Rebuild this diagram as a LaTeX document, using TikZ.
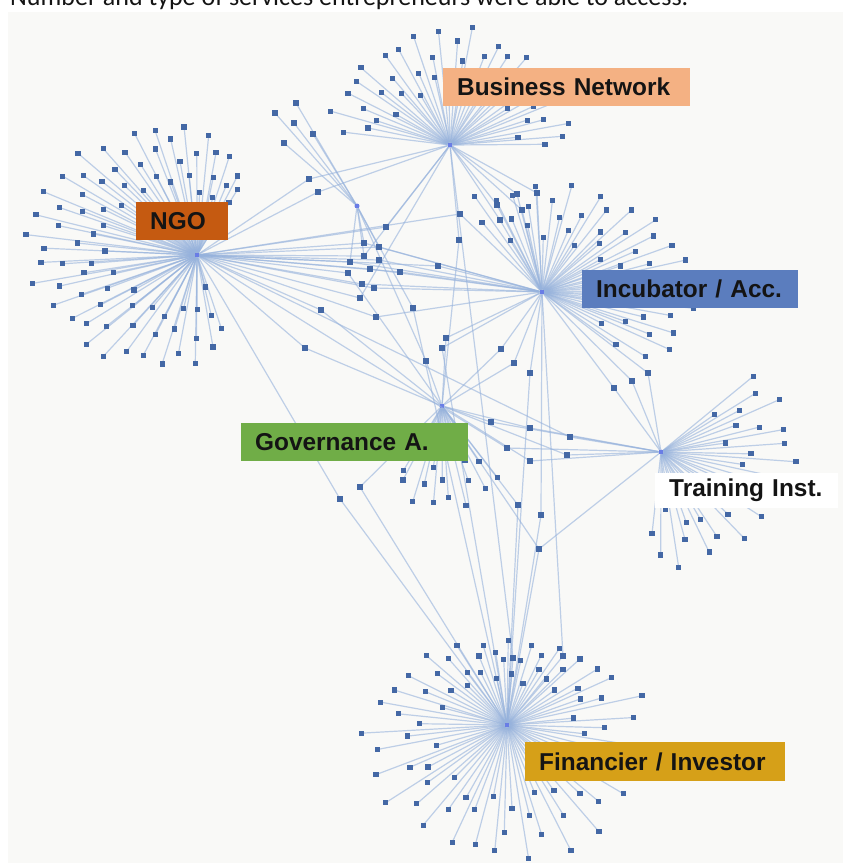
\documentclass[tikz,border=0pt]{standalone}
\usepackage{fontspec}
\setmainfont{Liberation Sans}
\newfontfamily\captionfont{Carlito}
\definecolor{paper}{RGB}{249,249,247}
\definecolor{linkblue}{RGB}{150,178,220}
\definecolor{leafblue}{RGB}{68,104,165}
\definecolor{bnorange}{RGB}{244,177,131}
\definecolor{ngorust}{RGB}{197,90,17}
\definecolor{incblue}{RGB}{91,125,190}
\definecolor{govgreen}{RGB}{112,173,71}
\definecolor{fingold}{RGB}{214,160,24}
\definecolor{ink}{RGB}{20,20,20}
\def\ring{{1,0.72,0.9,0.52,1,0.8,0.62}}
\tikzset{
  leaf/.style={rectangle, fill=leafblue, minimum size=5.2pt, inner sep=0pt},
  hubdot/.style={circle, fill=linkblue!70!blue, minimum size=5pt, inner sep=0pt},
  link/.style={draw=linkblue, line width=1.2pt, opacity=0.6},
  tag/.style={rectangle, anchor=west, align=left, inner xsep=14pt, inner ysep=0pt,
    minimum height=38pt, text=ink, font=\fontsize{24.4}{28}\selectfont\bfseries}
}
\begin{document}
\begin{tikzpicture}[x=1pt, y=-1pt]
\useasboundingbox (0,0) rectangle (843,863);
\clip (0,0) rectangle (843,863);
\node[anchor=base west, inner sep=0pt, text=ink, font=\captionfont\fontsize{26}{30}\selectfont] (title) at (10,5)
  {Number and type of services entrepreneurs were able to access.};
\fill[paper] (8,12) rectangle (843,863);

\node[hubdot] (bn) at (450,145) {};
\node[hubdot] (ngo) at (197,255) {};
\node[hubdot] (inc) at (542,292) {};
\node[hubdot] (gov) at (442,406) {};
\node[hubdot] (trn) at (661,452) {};
\node[hubdot] (fin) at (507,725) {};
\node[hubdot] (oth) at (357,206) {};

\pgfmathsetseed{11}
\foreach \h/\cx/\cy/\n/\start/\s/\rx/\ry/\kx/\ky in {
    ngo/183/245/80/45/3.1/152/122/.6/0,
    bn/452/145/44/-4/4/125/113/0/0,
    inc/542/292/47/-48/3.6/148/105/0/0,
    trn/661/452/32/-100/4.5/130/112/0/0,
    gov/442/406/16/232/4.8/95/100/0/0,
    fin/507/725/80/-6/4.5/142/132/0/.35} {
  \foreach \i in {1,...,\n} {
    \pgfmathsetmacro\ang{\start+\i*\s+1.2*rand}
    \pgfmathsetmacro\f{\ring[int(mod(\i,7))]*(0.94+0.12*rnd)*(1-\kx*max(0,cos(\ang))-\ky*max(0,sin(\ang)))}
    \coordinate (\h-\i) at ({\cx+\rx*\f*cos(\ang)},{\cy-\ry*\f*sin(\ang)});
    \draw[link] (\h) -- (\h-\i);
  }
}

\foreach \x/\y/\hs [count=\k] in {
    296/103/{oth}, 275/113/{oth}, 294/123/{oth}, 313/134/{oth}, 284/143/{oth},
    309/179/{ngo,bn}, 318/192/{ngo,bn}, 386/227/{ngo,bn},
    460/214/{ngo,inc}, 459/240/{bn,gov}, 438/266/{ngo,inc},
    497/205/{bn,inc}, 517/194/{bn,inc}, 537/193/{bn,inc}, 522/210/{bn,inc}, 500/220/{bn,inc},
    364/243/{ngo,inc,oth}, 379/247/{ngo,inc,oth}, 364/256/{ngo,bn,oth}, 379/260/{ngo,inc},
    350/262/{ngo,inc,oth}, 370/269/{ngo,inc}, 348/273/{ngo,gov}, 400/272/{ngo,inc},
    362/284/{ngo,inc}, 374/288/{ngo,inc}, 360/298/{ngo,bn}, 321/310/{ngo,gov},
    376/317/{ngo,inc}, 413/308/{oth,fin}, 305/348/{ngo,gov},
    446/338/{inc,gov}, 442/348/{inc,fin}, 426/361/{oth,gov},
    501/349/{inc,gov}, 514/363/{inc,gov}, 530/373/{inc,fin},
    491/422/{gov,trn}, 530/428/{gov,trn}, 570/437/{ngo,trn}, 567/455/{gov,trn},
    507/448/{ngo,trn}, 530/461/{gov,trn},
    518/505/{gov,fin}, 541/515/{inc,fin}, 539/549/{gov,trn,fin},
    360/487/{gov,fin}, 340/499/{ngo,fin},
    614/388/{inc,trn}, 632/381/{inc,trn}, 648/373/{inc,trn},
    513/658/{bn,fin}, 563/656/{inc,fin}} {
  \coordinate (mid-\k) at (\x,\y);
  \foreach \h in \hs { \draw[link] (mid-\k) -- (\h); }
  \xdef\nmid{\k}
}

\foreach \h/\n in {ngo/80, bn/44, inc/47, trn/32, gov/16, fin/80}
  \foreach \i in {1,...,\n}
    \node[leaf] (\h-dot-\i) at (\h-\i) {};
\foreach \k in {1,...,\nmid}
  \node[leaf] (mid-dot-\k) at (mid-\k) {};

\node[tag, fill=bnorange, text width=219pt] (bn-tag) at (443,87) {Business Network};
\node[tag, fill=ngorust, text width=64pt] (ngo-tag) at (136,221) {NGO};
\node[tag, fill=incblue, text width=188pt] (inc-tag) at (582,288.5) {Incubator / Acc.};
\node[tag, fill=govgreen, text width=199pt] (gov-tag) at (241,442) {Governance A.};
\node[tag, fill=white, text width=155pt, minimum height=35pt] (trn-tag) at (655,490.5) {Training Inst.};
\node[tag, fill=fingold, text width=232pt, minimum height=39pt] (fin-tag) at (525,761.5) {Financier / Investor};
\end{tikzpicture}
\end{document}
